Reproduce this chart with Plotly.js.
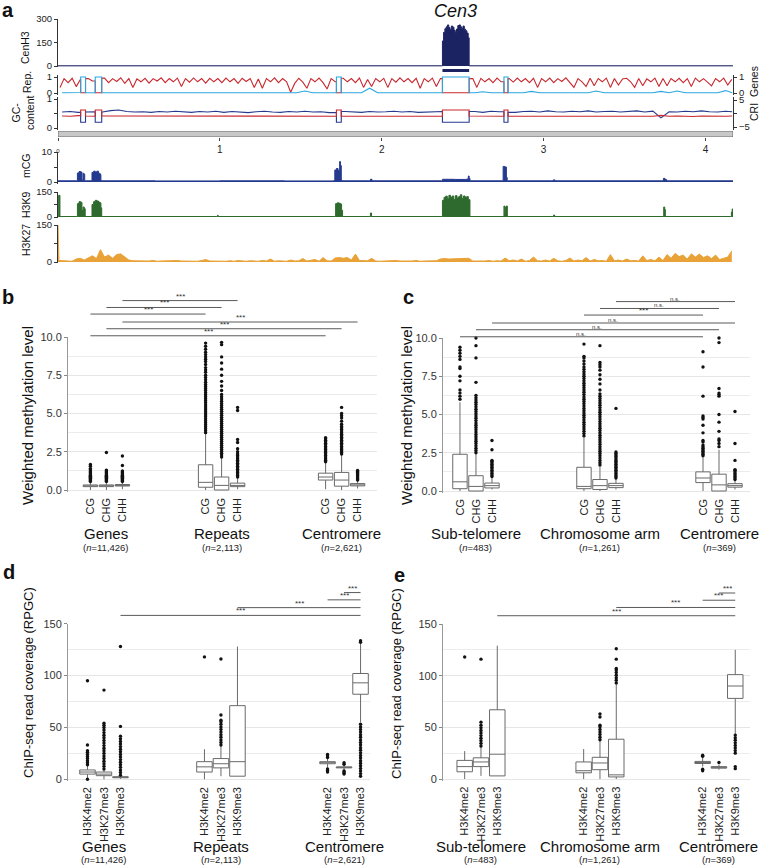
<!DOCTYPE html>
<html><head><meta charset="utf-8">
<script src="https://cdn.plot.ly/plotly-3.0.1.min.js"></script>
<style>html,body{margin:0;padding:0;background:#fff}#chart{width:760px;height:867px}</style>
</head><body><div id="chart"></div>
<script>
// ================= DATA =================
// ---- panel a : chromosome 3 tracks (positions in Mb) ----
const chromLengthMb = 4.17;
const cenInterval = [2.375, 2.54];
const chromTicks = [0, 1, 2, 3, 4];
const gapRegions = [[0.14, 0.17], [0.23, 0.27], [1.72, 1.75], [2.375, 2.54], [2.755, 2.78]];
const coarseBinMb = 0.05;
const fineBinMb = 0.025;

const cenh3X = [0, 2.368, 2.375, 2.382, 2.39, 2.398, 2.406, 2.414, 2.422, 2.43, 2.438, 2.446, 2.454, 2.462, 2.47, 2.478, 2.486, 2.494, 2.502, 2.51, 2.518, 2.526, 2.534, 2.54, 4.17];
const cenh3Y = [1, 1, 160, 215, 238, 250, 262, 245, 232, 255, 248, 228, 215, 236, 258, 262, 250, 240, 255, 235, 225, 210, 180, 1, 1];

// repeat fraction, fine bins (0.025 Mb)
const repBinValues = [0.35,0.9,0.65,0.92,0.4,0.88,0.7,0.9,0.75,0.92,
 0.7,0.93,0.65,0.9,0.72,0.95,0.6,0.9,0.35,0.88,
 0.7,0.92,0.62,0.9,0.75,0.95,0.65,0.9,0.7,0.93,
 0.4,0.9,0.68,0.94,0.7,0.9,0.62,0.92,0.7,0.9,
 0.65,0.93,0.7,0.9,0.6,0.92,0.72,0.9,0.35,0.88,
 0.3,0.9,0.7,0.95,0.65,0.9,0.7,0.05,0.6,0.92,
 0.68,0.3,0.9,0.7,0.93,0.65,0.25,0.9,0.7,0.9,
 0.92,0.7,0.9,0.65,0.93,0.35,0.85,0.4,0.9,0.7,
 0.92,0.35,0.9,0.68,0.95,0.7,0.9,0.65,0.92,0.3,
 0.9,0.7,0.93,0.4,0.9,0,0,0,0,0,
 0,0,0.9,0.35,0.92,0.7,0.9,0.65,0.93,0.7,
 0,0.9,0.68,0.93,0.7,0.9,0.65,0.92,0.35,0.9,
 0.7,0.93,0.65,0.9,0.72,0.95,0.68,0.35,0.9,0.7,
 0.4,0.92,0.45,0.9,0.7,0.93,0.35,0.9,0.5,0.88,
 0.92,0.7,0.35,0.9,0.45,0.88,0.7,0.93,0.4,0.9,
 0.45,0.9,0.7,0.92,0.65,0.9,0.4,0.93,0.7,0.9,
 0.68,0.45,0.9,0.7,0.93,0.5,0.85];
// gene fraction, coarse bins (0.05 Mb)
const geneBinValues = [0.02,0.02,0.03,0.02,0.02,0.02,0.03,0.02,0.02,0.02,
 0.06,0.02,0.02,0.03,0.02,0.02,0.02,0.02,0.03,0.02,
 0.02,0.02,0.02,0.02,0.03,0.02,0.02,0.02,0.02,0.02,
 0.12,0.02,0.02,0.02,0.02,0.02,0.02,0.02,0.3,0.02,
 0.02,0.02,0.03,0.02,0.02,0.02,0.02,0.02,0.02,0.02,
 0.02,0.02,0.08,0.02,0.02,0.02,0.02,0.02,0.1,0.02,
 0.02,0.02,0.06,0.02,0.02,0.02,0.12,0.02,0.02,0.02,
 0.05,0.02,0.02,0.02,0.1,0.02,0.12,0.02,0.02,0.02,
 0.06,0.02,0.15,0.02];
// GC content, coarse bins
const gcBinValues = [0.55,0.57,0.54,0.55,0.56,0.55,0.6,0.62,0.57,0.55,
 0.56,0.54,0.57,0.55,0.58,0.55,0.54,0.57,0.55,0.58,
 0.54,0.57,0.55,0.53,0.56,0.58,0.55,0.54,0.57,0.55,
 0.58,0.55,0.56,0.53,0.55,0.57,0.55,0.54,0.57,0.55,
 0.56,0.58,0.55,0.57,0.54,0.55,0.57,0.55,0.55,0.55,
 0.55,0.57,0.54,0.58,0.56,0.55,0.54,0.57,0.58,0.55,
 0.59,0.56,0.55,0.58,0.56,0.59,0.55,0.57,0.58,0.55,
 0.57,0.59,0.55,0.58,0.35,0.56,0.55,0.58,0.56,0.59,
 0.56,0.55,0.58,0.56];
// CRI, coarse bins
const criBinValues = [-0.9,-1.0,-0.8,-0.9,-1.0,-0.9,-1.1,-1.0,-0.9,-1.0,
 -0.9,-1.0,-1.1,-0.9,-1.0,-0.9,-1.0,-0.9,-1.1,-1.0,
 -0.9,-1.0,-0.9,-1.0,-1.1,-0.9,-1.0,-0.9,-1.0,-0.9,
 -1.0,-1.1,-0.9,-1.0,-0.9,-1.0,-0.9,-1.0,-0.9,-1.0,
 -1.1,-0.9,-1.0,-0.9,-1.0,-0.9,-1.0,-1.0,-1.0,-1.0,
 -1.0,-0.9,-1.0,-0.9,-1.0,-0.9,-1.0,-1.1,-0.9,-1.0,
 -0.9,-1.0,-1.1,-0.9,-1.0,-0.9,-1.0,-1.1,-0.9,-1.0,
 -0.9,-1.0,-0.9,-1.0,-0.7,-1.0,-0.9,-1.0,-1.1,-0.9,
 -1.0,-0.9,-1.0,-0.9];
const gapValues = {rep: 0.02, genes: 1.0, gc: 0.2, cri: 1.3};

const mcgX = [0,0.115,0.12,0.13,0.14,0.148,0.155,0.16,0.165,0.17,0.205,0.21,0.22,0.23,0.24,0.25,0.26,0.265,0.6,1.0,1.4,1.7,1.71,1.72,1.73,1.74,1.745,1.75,1.755,1.92,1.93,1.94,2.37,2.375,2.45,2.525,2.535,2.54,2.545,2.745,2.75,2.76,2.77,2.775,3.05,3.06,3.07,3.73,3.74,3.75,3.76,4.17];
const mcgY = [0.4,0.4,3.0,3.5,3.3,0.6,2.9,2.6,0.4,0.4,0.4,3.2,3.6,3.3,3.6,2.9,2.5,0.4,0.35,0.4,0.35,0.4,4.0,4.5,3.8,6.8,5.5,0.6,0.4,0.4,0.9,0.4,0.4,0.9,0.85,1.0,2.0,1.2,0.4,0.4,5.2,5.0,1.5,0.4,0.4,0.7,0.4,0.4,1.2,0.8,0.4,0.4];

const k9X = [0,0.004,0.012,
 0.115,0.12,0.13,0.14,0.148,0.155,0.162,0.168,
 0.205,0.21,0.22,0.23,0.24,0.25,0.258,0.265,0.27,
 0.98,0.985,0.99,
 1.71,1.715,1.725,1.735,1.745,1.752,1.758,
 1.925,1.93,1.937,
 2.368,2.375,2.385,2.395,2.405,2.415,2.425,2.435,2.445,2.455,2.465,2.475,2.485,2.495,2.505,2.515,2.525,2.535,2.545,
 2.75,2.755,2.76,2.765,2.77,2.776,
 3.058,3.062,3.068,
 3.738,3.742,3.748,3.752,
 4.155,4.16,4.165,4.17];
const k9Y = [3,130,3,
 3,80,92,88,40,60,50,3,
 3,75,92,100,96,90,85,55,3,
 3,10,3,
 3,80,85,82,78,40,3,
 3,24,3,
 3,100,118,125,110,130,118,126,106,128,114,122,133,112,126,118,122,104,3,
 3,66,12,60,66,3,
 3,12,3,
 3,60,45,3,
 3,30,48,48];

// H3K27, fine bins
const k27BinValues = [6,4,5,3,12,15,8,18,25,14,
 50,20,28,15,30,33,22,8,5,4,
 3,5,4,6,3,4,5,3,4,6,
 4,3,5,4,3,6,10,4,3,5,
 4,3,5,3,6,4,3,5,4,3,
 6,4,12,3,5,4,3,8,4,5,
 14,4,6,10,3,18,5,4,16,18,
 15,18,8,32,6,4,5,15,4,3,
 4,5,3,6,4,3,5,4,6,3,
 4,5,3,5,12,14,12,13,12,14,
 13,15,4,3,5,4,6,3,5,4,
 16,5,8,4,12,3,6,20,5,4,
 8,4,15,5,3,6,16,4,8,5,
 18,4,10,5,6,3,30,5,8,4,
 12,5,6,4,25,6,10,5,20,6,
 30,15,35,22,28,12,33,20,32,18,
 25,14,28,10,15,20,45];
const k27StartSpike = 150;

// ---- panel b : weighted methylation, genes / repeats / centromere ----
const bGroups = ['Genes', 'Repeats', 'Centromere'];
const bGroupN = ['11,426', '2,113', '2,621'];
const bContexts = ['CG', 'CHG', 'CHH'];
const bLower = [0, 0, 0.05, 0, 0, 0.05, 0.05, 0, 0.1];
const bQ1 = [0.22, 0.22, 0.26, 0.18, 0, 0.22, 0.65, 0.25, 0.27];
const bMedian = [0.27, 0.28, 0.3, 0.5, 0.3, 0.3, 0.85, 0.65, 0.32];
const bQ3 = [0.33, 0.33, 0.36, 1.65, 0.85, 0.45, 1.1, 1.15, 0.42];
const bUpper = [0.5, 0.5, 0.5, 3.7, 2.1, 0.8, 1.8, 2.3, 0.6];
const bOutliers = [
 [0.55,0.62,0.69,0.76,0.83,0.9,0.97,1.04,1.11,1.18,1.25,1.32,1.4,1.55,1.67],
 [0.55,0.62,0.69,0.76,0.83,0.9,0.97,1.04,1.11,1.18,1.25,1.3,2.45],
 [0.55,0.62,0.69,0.76,0.83,0.9,0.97,1.04,1.11,1.18,1.25,1.6,2.22],
 [3.75,3.88,4.0,4.13,4.26,4.4,4.52,4.65,4.78,4.9,5.04,5.17,5.3,5.43,5.56,5.7,5.83,5.96,6.1,6.23,6.36,6.5,6.63,6.77,6.9,7.05,7.2,7.35,7.5,7.7,7.85,8.0,8.2,8.4,8.55,8.7,8.85,9.0,9.2,9.4,9.6],
 [2.15,2.28,2.41,2.54,2.67,2.8,2.93,3.06,3.19,3.32,3.45,3.58,3.71,3.84,3.97,4.1,4.23,4.36,4.49,4.62,4.75,4.88,5.01,5.14,5.27,5.4,5.53,5.66,5.8,5.95,6.1,6.25,6.5,6.8,7.1,7.5,7.9,8.3,8.7,9.5,9.65],
 [0.85,0.95,1.05,1.15,1.25,1.35,1.45,1.55,1.65,1.75,1.85,1.95,2.05,2.15,2.25,2.35,2.5,2.7,3.1,3.3,5.2,5.4],
 [1.85,1.95,2.05,2.15,2.25,2.35,2.45,2.55,2.65,2.75,2.85,2.95,3.05,3.15,3.25,3.35,3.42],
 [2.35,2.45,2.55,2.65,2.75,2.85,2.95,3.05,3.15,3.25,3.35,3.45,3.55,3.65,3.75,3.85,3.95,4.05,4.15,4.3,4.5,4.7,4.85,5.0,5.4],
 [0.65,0.72,0.79,0.86,0.93,1.0,1.07,1.14,1.21,1.28]
];
const bSignif = [[2,5,'***',12.38],[1,4,'***',11.93],[0,3,'***',11.5],[2,8,'***',10.98],[1,7,'***',10.54],[0,6,'***',10.08]];

// ---- panel c : weighted methylation, sub-telomere / arm / centromere ----
const cGroups = ['Sub-telomere', 'Chromosome arm', 'Centromere'];
const cGroupN = ['483', '1,261', '369'];
const cLower = [0, 0, 0.1, 0, 0, 0.1, 0, 0, 0.1];
const cQ1 = [0.15, 0, 0.2, 0.15, 0.1, 0.22, 0.55, 0, 0.25];
const cMedian = [0.6, 0.3, 0.35, 0.3, 0.35, 0.35, 0.85, 0.4, 0.35];
const cQ3 = [2.4, 1.0, 0.52, 1.55, 0.75, 0.5, 1.25, 1.1, 0.48];
const cUpper = [5.8, 2.4, 0.9, 3.5, 1.6, 0.8, 2.2, 2.7, 0.7];
const cOutliers = [
 [6.0,6.2,6.4,6.6,7.2,7.5,8.0,8.1,8.6,8.8,9.0,9.2,9.4],
 [2.5,2.65,2.8,2.95,3.1,3.25,3.4,3.55,3.7,3.85,4.0,4.15,4.3,4.45,4.6,4.75,4.9,5.05,5.2,5.35,5.5,5.65,5.8,5.95,6.1,6.25,7.1,8.7,9.5,10.0],
 [0.95,1.05,1.15,1.25,1.35,1.45,1.55,1.65,1.75,1.85,1.95,2.0,2.7,3.3],
 [3.6,3.75,3.9,4.05,4.2,4.35,4.5,4.65,4.8,4.95,5.1,5.25,5.4,5.55,5.7,5.85,6.0,6.15,6.3,6.45,6.6,6.75,6.9,7.05,7.2,7.35,7.5,7.65,7.8,7.95,8.1,8.3,8.5,8.7,8.8,9.6],
 [1.7,1.85,2.0,2.15,2.3,2.45,2.6,2.75,2.9,3.05,3.2,3.35,3.5,3.65,3.8,3.95,4.1,4.25,4.4,4.55,4.7,4.85,5.0,5.15,5.3,5.45,5.6,5.75,5.9,6.05,6.2,6.35,6.6,7.0,7.3,7.6,7.9,8.1,8.25,8.4,9.5],
 [0.85,0.95,1.05,1.15,1.25,1.35,1.45,1.55,1.65,1.75,1.85,1.95,2.05,2.15,2.25,2.35,2.45,2.55,5.4],
 [2.3,2.4,2.5,2.6,2.7,2.8,2.9,3.0,3.2,3.3,3.8,4.3,4.7,4.8,4.9,6.2,8.1,9.1],
 [2.9,3.1,3.3,3.4,3.9,4.5,5.0,6.2,6.3,6.4,6.7,9.7,10.0],
 [0.75,0.85,0.95,1.05,1.15,1.25,1.35,1.4,2.0,3.1,5.2]
];
const cSignif = [[5,8,'n.s.',12.38],[4,7,'n.s.',11.93],[3,6,'***',11.5],[2,8,'n.s.',10.98],[1,7,'n.s.',10.54],[0,6,'n.s.',10.08]];

// ---- panel d : ChIP-seq coverage, genes / repeats / centromere ----
const histoneMarks = ['H3K4me2', 'H3K27me3', 'H3K9me3'];
const dLower = [1, 0, 0.5, 0, 3, 3, 11, 9, 55];
const dQ1 = [5, 3.5, 1.5, 7, 11, 3, 15, 11, 82];
const dMedian = [7, 5, 2, 12, 15, 17, 16, 11.5, 93];
const dQ3 = [9, 7, 2.5, 17, 20, 71, 17, 12, 102];
const dUpper = [14, 10, 3.5, 29, 32, 128, 20, 14, 131];
const dOutliers = [
 [0,14,16,18,20,22,24,26,27.5,33,95],
 [10,12.5,15,17.5,20,22.5,25,27.5,30,32.5,35,37.5,40,42.5,45,47.5,50,52,54,86],
 [4,6.5,9,11.5,14,16.5,19,21.5,24,26.5,29,31.5,34,36.5,39,41.5,51,128],
 [118],
 [33,35.5,38,40.5,43,45.5,48,50.5,53,55.5,57,62,116],
 [],
 [7,8.5,10,21,22.5,24],
 [5,6,7,8,14.5,16],
 [3,5.5,8,10.5,13,15.5,18,20.5,23,25.5,28,30.5,33,35.5,38,40.5,43,45.5,48,50.5,53,132,133.5]
];
const dSignif = [[7,8,'***',180],[6,8,'***',173],[5,8,'***',165.5],[2,8,'***',158]];

// ---- panel e : ChIP-seq coverage, sub-telomere / arm / centromere ----
const eLower = [0, 3, 3, 0, 0, 0, 12, 9, 43];
const eQ1 = [7, 12, 3, 6, 9, 2, 15, 10.5, 78];
const eMedian = [12, 16.5, 24, 8, 15.5, 4, 16, 11, 90];
const eQ3 = [18, 20.5, 67, 16.5, 21, 38.5, 17, 12, 101];
const eUpper = [27, 31, 129, 29, 37, 92, 21, 14, 125];
const eOutliers = [
 [118],
 [32,34.5,37,39.5,42,44.5,47,49.5,52,55,116],
 [],
 [],
 [38,40.5,43,45.5,48,50.5,52,60,63],
 [93,95.5,98,100.5,103,105.5,107,116,126],
 [8,9.5,22,23],
 [16],
 [10,12,25,27.5,30,32.5,35,37.5,40,42.5]
];
const eSignif = [[7,8,'***',180],[6,8,'***',173],[5,8,'***',166],[2,8,'***',158]];

// ================= DRAWING =================
const W = 760, H = 867;
const FONT = 'Liberation Sans, Arial, Helvetica, sans-serif';
const px2x = p => p / W;
const px2y = p => 1 - p / H;
const domainFor = (base0, ppu, lo, hi) => [px2y(base0 - lo * ppu), px2y(base0 - hi * ppu)];
const C = {cen:'#1c2363', navy:'#243a8e', red:'#c8282e', lblue:'#2aa7e0', green:'#2e6a2e', orange:'#e9a237'};

const data = [];
const layout = {
  width: W, height: H, margin: {l:0, r:0, t:0, b:0},
  paper_bgcolor: '#ffffff', plot_bgcolor: 'rgba(0,0,0,0)', showlegend: false,
  font: {family: FONT, color: '#222'}, shapes: [], annotations: [], boxmode: 'overlay'
};

function binX(values, step) { return values.map((_, i) => Math.min(step / 2 + i * step, chromLengthMb - 0.005)); }
function withGaps(xs, ys, gaps, gapVal) {
  const base = [];
  xs.forEach((x, i) => { if (!gaps.some(g => x >= g[0] && x <= g[1])) base.push([x, ys[i], -1]); });
  const extra = [];
  gaps.forEach(g => {
    const L = base.filter(p => p[0] < g[0]); const R = base.filter(p => p[0] > g[1]);
    const lv = L.length ? L[L.length - 1][1] : gapVal;
    const rv = R.length ? R[0][1] : gapVal;
    extra.push([g[0], lv, 0], [g[0], gapVal, 1], [g[1], gapVal, 2], [g[1], rv, 3]);
  });
  const all = base.concat(extra).sort((a, b) => a[0] - b[0] || a[2] - b[2]);
  return {x: all.map(p => p[0]), y: all.map(p => p[1])};
}

// ---------- panel a axes ----------
const tickFontA = {family: FONT, size: 9.5, color: '#222'};
function trackAxis(domain, range, tickvals, ticktext, extra) {
  const a = {range, anchor: 'x', tickmode: 'array', tickvals, ticktext,
    ticks: 'outside', ticklen: 3, tickwidth: 1, tickcolor: '#333', showline: true, linecolor: '#333',
    linewidth: 1, showgrid: false, zeroline: false, tickfont: tickFontA, fixedrange: true};
  if (domain) a.domain = domain;
  return Object.assign(a, extra || {});
}
layout.xaxis = {domain: [px2x(58), px2x(733)], range: [0, chromLengthMb], anchor: 'y6',
  tickmode: 'array', tickvals: chromTicks,
  ticktext: chromTicks.map(t => t === 0 ? '<span style="font-size:6px">0</span>' : String(t)),
  ticks: 'outside', ticklen: 3, tickcolor: '#444', showline: false, showgrid: false, zeroline: false,
  tickfont: {family: FONT, size: 10, color: '#222'}};
layout.yaxis = trackAxis(domainFor(66, 47/300, -6, 300), [-6, 300], [0,150,300], ['0','150','300']);
layout.yaxis2 = trackAxis(domainFor(93, 16, -0.12, 1.12), [-0.12, 1.12], [0,1], ['0','1']);
layout.yaxis3 = trackAxis(domainFor(128, 29, -0.07, 1.07), [-0.07, 1.07], [0,0.5,1], ['0','','1']);
layout.yaxis4 = trackAxis(null, [-0.12, 1.12], [0,1], ['0','1'], {overlaying: 'y2', side: 'right'});
layout.yaxis5 = trackAxis(null, [-6.12, 6.12], [-5,0,5], ['\u22125','','5'], {overlaying: 'y3', side: 'right'});
layout.yaxis6 = {domain: [px2y(137), px2y(131)], range: [0, 1], anchor: 'x', visible: false, fixedrange: true};
layout.yaxis7 = trackAxis(domainFor(182, 3, -0.5, 10), [-0.5, 10], [0,5,10], ['0','','10']);
layout.yaxis8 = trackAxis(domainFor(217, 25/150, -4, 150), [-4, 150], [0,75,150], ['0','','150']);
layout.yaxis9 = trackAxis(domainFor(262, 37/150, -4, 150), [-4, 150], [0,75,150], ['0','','150']);

// ---------- panel a traces ----------
const coarseX = binX(geneBinValues, coarseBinMb);
const repX = binX(repBinValues, fineBinMb);
data.push({type:'scatter', mode:'lines', x: cenh3X, y: cenh3Y, xaxis:'x', yaxis:'y',
  line:{color:C.cen, width:1, shape:'hv'}, fill:'tozeroy', fillcolor:C.cen, hoverinfo:'skip'});
const genesLine = withGaps(coarseX, geneBinValues, gapRegions, gapValues.genes);
data.push({type:'scatter', mode:'lines', x: genesLine.x, y: genesLine.y, xaxis:'x', yaxis:'y4',
  line:{color:C.lblue, width:1.1}, hoverinfo:'skip'});
const repLine = withGaps(repX, repBinValues, gapRegions, gapValues.rep);
data.push({type:'scatter', mode:'lines', x: repLine.x, y: repLine.y, xaxis:'x', yaxis:'y2',
  line:{color:C.red, width:1.1}, hoverinfo:'skip'});
const criLine = withGaps(coarseX, criBinValues, gapRegions, gapValues.cri);
data.push({type:'scatter', mode:'lines', x: criLine.x, y: criLine.y, xaxis:'x', yaxis:'y5',
  line:{color:C.red, width:1.1}, hoverinfo:'skip'});
const gcLine = withGaps(coarseX, gcBinValues, gapRegions, gapValues.gc);
data.push({type:'scatter', mode:'lines', x: gcLine.x, y: gcLine.y, xaxis:'x', yaxis:'y3',
  line:{color:C.navy, width:1.1}, hoverinfo:'skip'});
data.push({type:'scatter', x:[], y:[], xaxis:'x', yaxis:'y6'});
data.push({type:'scatter', mode:'lines', x: mcgX, y: mcgY, xaxis:'x', yaxis:'y7',
  line:{color:C.navy, width:1, shape:'hv'}, fill:'tozeroy', fillcolor:C.navy, hoverinfo:'skip'});
data.push({type:'scatter', mode:'lines', x: k9X, y: k9Y, xaxis:'x', yaxis:'y8',
  line:{color:C.green, width:1, shape:'hv'}, fill:'tozeroy', fillcolor:C.green, hoverinfo:'skip'});
const k27x = [0, 0.006].concat(binX(k27BinValues, fineBinMb));
const k27y = [k27StartSpike, k27BinValues[0]].concat(k27BinValues);
data.push({type:'scatter', mode:'lines', x: k27x, y: k27y, xaxis:'x', yaxis:'y9',
  line:{color:C.orange, width:1}, fill:'tozeroy', fillcolor:C.orange, hoverinfo:'skip'});

// chromosome bar and centromere bar
layout.shapes.push({type:'rect', xref:'x', yref:'y6', x0:0, x1:chromLengthMb, y0:0, y1:1,
  fillcolor:'#c8c8c8', line:{color:'#555', width:0.8}, layer:'above'});
layout.shapes.push({type:'line', xref:'x', yref:'paper', x0:cenInterval[0], x1:cenInterval[1],
  y0:px2y(70.5), y1:px2y(70.5), line:{color:C.cen, width:3}});

// panel a labels
function ann(x, y, text, size, extra) {
  layout.annotations.push(Object.assign({xref:'paper', yref:'paper', x:px2x(x), y:px2y(y), text,
    showarrow:false, xanchor:'center', yanchor:'middle', font:{family:FONT, size, color:'#111'}}, extra || {}));
}
ann(8, 10, '<b>a</b>', 20);
ann(455, 11, '<i>Cen3</i>', 18);
ann(25, 48, 'CenH3', 10.5, {textangle:-90});
ann(27, 82, 'Rep.', 10.5, {textangle:-90});
ann(23, 113, 'GC-<br>content', 10.5, {textangle:-90});
ann(26, 166, 'mCG', 10.5, {textangle:-90});
ann(26, 205, 'H3K9', 10.5, {textangle:-90});
ann(26, 240, 'H3K27', 10.5, {textangle:-90});
ann(754, 82, 'Genes', 10.5, {textangle:-90});
ann(754, 112, 'CRI', 10.5, {textangle:-90});

// ---------- box panels ----------
function boxPanel(p) {
  const n = p.num;
  const xa = 'x' + n, ya = 'y' + p.yv, ys = 'y' + p.ysig;
  const pos = [];
  p.centers.forEach(c => [-1, 0, 1].forEach(o => pos.push(c + o)));
  const xr = (p.pxR - p.pxL) / p.ppuX;
  layout['xaxis' + n] = {domain:[px2x(p.pxL), px2x(p.pxR)], range:[0, xr], anchor: ya,
    tickmode:'array', tickvals: pos, ticktext: pos.map((_, i) => p.labels[i % 3]), tickangle: -90,
    ticks:'', showgrid:false, zeroline:false, showline:false, ticklabelstandoff: 3,
    tickfont:{family:FONT, size:11, color:'#222'}, fixedrange:true};
  layout['yaxis' + p.yv] = {domain: domainFor(p.base0, p.ppuY, p.yLo, p.yMax), range:[p.yLo, p.yMax],
    anchor: xa, tickmode:'linear', tick0:0, dtick:p.dtick, tickformat:p.fmt, ticks:'outside', ticklen:3,
    tickcolor:'#888', showline:true, linecolor:'#999', linewidth:1, showgrid:true, gridcolor:'#e6e6e6',
    minor:{dtick:p.dtick/2, showgrid:true, gridcolor:'#ececec', ticks:''}, zeroline:false,
    tickfont:{family:FONT, size:11, color:'#333'}, fixedrange:true};
  layout['yaxis' + p.ysig] = {domain: domainFor(p.base0, p.ppuY, p.yLo, p.sigMax), range:[p.yLo, p.sigMax],
    anchor: xa, visible:false, fixedrange:true};
  pos.forEach((x, i) => {
    data.push({type:'box', x:[x], q1:[p.q1[i]], median:[p.med[i]], q3:[p.q3[i]],
      lowerfence:[p.lower[i]], upperfence:[p.upper[i]], width:p.bw, whiskerwidth:0,
      fillcolor:'#ffffff', line:{color:'#6a6a6a', width:1}, boxpoints:false, hoverinfo:'skip',
      xaxis:xa, yaxis:ya});
  });
  const ox = [], oy = [];
  p.outliers.forEach((arr, i) => arr.forEach(v => { ox.push(pos[i]); oy.push(v); }));
  data.push({type:'scatter', mode:'markers', x:ox, y:oy, marker:{size:3.4, color:'#111'},
    cliponaxis:false, xaxis:xa, yaxis:ya, hoverinfo:'skip'});
  data.push({type:'scatter', x:[], y:[], xaxis:xa, yaxis:ys});
  p.sig.forEach(s => {
    const x0 = pos[s[0]], x1 = pos[s[1]];
    layout.shapes.push({type:'line', xref:xa, yref:ys, x0, x1, y0:s[3], y1:s[3],
      line:{color:'#5a5a5a', width:1}});
    layout.annotations.push({xref:xa, yref:ys, x:(x0 + x1) / 2, y:s[3], text:s[2], showarrow:false,
      yanchor:'bottom', yshift:-2, font:{family:FONT, size: s[2] === '***' ? 8 : 6, color:'#333'}});
  });
  p.groups.forEach((g, i) => {
    layout.annotations.push({xref:xa, yref:'paper', x:p.centers[i], y:px2y(p.gy), text:g,
      showarrow:false, yanchor:'middle', font:{family:FONT, size:15, color:'#111'}});
    layout.annotations.push({xref:xa, yref:'paper', x:p.centers[i], y:px2y(p.ny),
      text:'(<i>n</i>=' + p.ns[i] + ')', showarrow:false, yanchor:'middle',
      font:{family:FONT, size:9.5, color:'#222'}});
  });
}

boxPanel({num:2, yv:10, ysig:11, pxL:68, pxR:377, ppuX:16, centers:[2.4, 9.6, 17.1], bw:0.9,
  base0:490, ppuY:15.3, yLo:-0.12, yMax:10, sigMax:12.8, dtick:2.5, fmt:'.1f',
  labels:bContexts, groups:bGroups, ns:bGroupN, gy:533, ny:547,
  lower:bLower, q1:bQ1, med:bMedian, q3:bQ3, upper:bUpper, outliers:bOutliers, sig:bSignif});
boxPanel({num:3, yv:12, ysig:13, pxL:443, pxR:750, ppuX:16, centers:[2.06, 9.81, 17.25], bw:0.9,
  base0:491, ppuY:15.3, yLo:-0.12, yMax:10, sigMax:12.8, dtick:2.5, fmt:'.1f',
  labels:bContexts, groups:cGroups, ns:cGroupN, gy:533, ny:547,
  lower:cLower, q1:cQ1, med:cMedian, q3:cQ3, upper:cUpper, outliers:cOutliers, sig:cSignif});
boxPanel({num:4, yv:14, ysig:15, pxL:68, pxR:370, ppuX:16.5, centers:[2.18, 9.27, 16.73], bw:0.94,
  base0:779.3, ppuY:155.6/150, yLo:-1.5, yMax:150, sigMax:186, dtick:50, fmt:'d',
  labels:histoneMarks, groups:bGroups, ns:bGroupN, gy:846, ny:859,
  lower:dLower, q1:dQ1, med:dMedian, q3:dQ3, upper:dUpper, outliers:dOutliers, sig:dSignif});
boxPanel({num:5, yv:16, ysig:17, pxL:443, pxR:750, ppuX:16.3, centers:[2.33, 9.63, 16.93], bw:0.95,
  base0:779, ppuY:155/150, yLo:-1.5, yMax:150, sigMax:186, dtick:50, fmt:'d',
  labels:histoneMarks, groups:cGroups, ns:cGroupN, gy:846, ny:859,
  lower:eLower, q1:eQ1, med:eMedian, q3:eQ3, upper:eUpper, outliers:eOutliers, sig:eSignif});

// panel labels and y titles
ann(8, 297, '<b>b</b>', 20);
ann(408, 297, '<b>c</b>', 20);
ann(9, 572, '<b>d</b>', 20);
ann(399, 575, '<b>e</b>', 20);
ann(27, 416, 'Weighted methylation level', 15, {textangle:-90});
ann(406, 416, 'Weighted methylation level', 15, {textangle:-90});
ann(28, 683, 'ChIP-seq read coverage (RPGC)', 13, {textangle:-90});
ann(396, 683, 'ChIP-seq read coverage (RPGC)', 13, {textangle:-90});

Plotly.newPlot('chart', data, layout, {staticPlot:true, displayModeBar:false});
</script>
</body></html>
